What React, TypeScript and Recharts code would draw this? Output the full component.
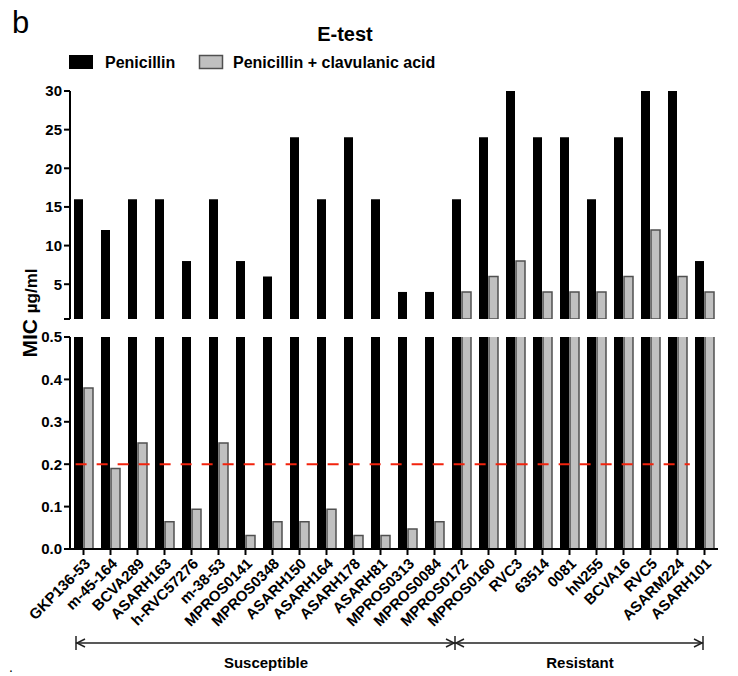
import React from 'react';
import { BarChart, Bar, XAxis, YAxis, ReferenceLine } from 'recharts';

const FONT = '"Liberation Sans", Arial, Helvetica, sans-serif';

const strains = [
  'GKP136-53', 'm-45-164', 'BCVA289', 'ASARH163', 'h-RVC57276', 'm-38-53',
  'MPROS0141', 'MPROS0348', 'ASARH150', 'ASARH164', 'ASARH178', 'ASARH81',
  'MPROS0313', 'MPROS0084', 'MPROS0172', 'MPROS0160', 'RVC3', '63514',
  '0081', 'hN255', 'BCVA16', 'RVC5', 'ASARM224', 'ASARH101',
];

const penicillin = [
  16, 12, 16, 16, 8, 16, 8, 6, 24, 16, 24, 16,
  4, 4, 16, 24, 30, 24, 24, 16, 24, 30, 30, 8,
];

const penicillinClav = [
  0.38, 0.19, 0.25, 0.064, 0.094, 0.25, 0.032, 0.064, 0.064, 0.094, 0.032, 0.032,
  0.047, 0.064, 4, 6, 8, 4, 4, 4, 6, 12, 6, 4,
];

const upperTicks = [0.5, 5, 10, 15, 20, 25, 30];
const lowerTicks = [0, 0.1, 0.2, 0.3, 0.4, 0.5];
const axisBreak = 0.5;
const breakpoint = 0.2; // red dashed cut-off
const breakpointSpan = [0.2, 22]; // in category units

const rows = strains.map((name, i) => ({
  name,
  pen: penicillin[i],
  clav: penicillinClav[i],
  penTop: penicillin[i] >= axisBreak ? penicillin[i] : null,
  clavTop: penicillinClav[i] >= axisBreak ? penicillinClav[i] : null,
}));

const axisProps = {
  axisLine: { stroke: '#000', strokeWidth: 2 },
  tickLine: { stroke: '#000', strokeWidth: 2 },
  tickSize: 6,
};

const yTick = { fontSize: 15, fontWeight: 'bold', fill: '#000', fontFamily: FONT };

const XTick = (props: any) => {
  const { x, y, payload } = props;
  const px = x + 4;
  const py = y + 4;
  return (
    <text
      x={px}
      y={py}
      transform={`rotate(-45, ${px}, ${py})`}
      textAnchor="end"
      dy="0.35em"
      fontSize={15}
      fontWeight="bold"
      fontFamily={FONT}
      fill="#000"
    >
      {payload.value}
    </text>
  );
};

const Overlay = () => (
  <svg width={738} height={676} style={{ position: 'absolute', left: 0, top: 0, pointerEvents: 'none' }}>
    <text x={12} y={33} fontSize={31} fontFamily={FONT} fill="#000">b</text>
    <text x={345} y={41} fontSize={20} fontWeight="bold" textAnchor="middle" fontFamily={FONT} fill="#000">E-test</text>
    <rect x={69} y={55} width={24} height={14} fill="#000" />
    <text x={105} y={67.5} fontSize={16} fontWeight="bold" fontFamily={FONT} fill="#000">Penicillin</text>
    <rect x={199.5} y={55.5} width={23} height={13} fill="#c0c0c0" stroke="#505050" strokeWidth={1.5} />
    <text x={233} y={67.5} fontSize={16} fontWeight="bold" fontFamily={FONT} fill="#000">Penicillin + clavulanic acid</text>
    <text transform="translate(37,313) rotate(-90)" textAnchor="middle" fontWeight="bold" fontFamily={FONT} fill="#000">
      <tspan fontSize={21}>MIC </tspan>
      <tspan fontSize={17}>µg/ml</tspan>
    </text>
    <g stroke="#222" strokeWidth={1.5} fill="none">
      <line x1={76} y1={643} x2={703} y2={643} />
      <line x1={76} y1={636} x2={76} y2={650} />
      <line x1={455} y1={636} x2={455} y2={650} />
      <line x1={703} y1={636} x2={703} y2={650} />
      <polyline points="85,639 77,643 85,647" />
      <polyline points="446,639 454,643 446,647" />
      <polyline points="464,639 456,643 464,647" />
      <polyline points="694,639 702,643 694,647" />
    </g>
    <text x={266} y={668} fontSize={15} fontWeight="bold" textAnchor="middle" fontFamily={FONT} fill="#000">Susceptible</text>
    <text x={580} y={668} fontSize={15} fontWeight="bold" textAnchor="middle" fontFamily={FONT} fill="#000">Resistant</text>
    <text x={9} y={672} fontSize={14} fontFamily={FONT} fill="#000">.</text>
  </svg>
);

const App: React.FC = () => {
  return (
    <div style={{ position: 'absolute', left: 0, top: 0, width: 738, height: 676, background: '#fff', fontFamily: FONT }}>
      <div style={{ position: 'absolute', left: 0, top: 0 }}>
        <BarChart
          width={738}
          height={330}
          data={rows}
          margin={{ top: 91, right: 20, bottom: 11, left: 0 }}
          barSize={9}
          barGap={1}
        >
          <XAxis dataKey="name" hide />
          <YAxis
            width={70}
            domain={[axisBreak, 30]}
            ticks={upperTicks}
            allowDataOverflow
            interval={0}
            tickFormatter={(v: number) => (v === axisBreak ? '' : String(v))}
            tick={yTick}
            {...axisProps}
          />
          <Bar dataKey="penTop" fill="#000" isAnimationActive={false} />
          <Bar dataKey="clavTop" fill="#c0c0c0" stroke="#505050" strokeWidth={1.5} isAnimationActive={false} />
        </BarChart>
      </div>
      <div style={{ position: 'absolute', left: 0, top: 320 }}>
        <BarChart
          width={738}
          height={320}
          data={rows}
          margin={{ top: 17, right: 20, bottom: 0, left: 0 }}
          barSize={9}
          barGap={1}
        >
          <XAxis dataKey="name" interval={0} height={91} tick={<XTick />} {...axisProps} />
          <XAxis xAxisId="pos" type="number" domain={[0, strains.length]} hide />
          <YAxis
            width={70}
            domain={[0, axisBreak]}
            ticks={lowerTicks}
            allowDataOverflow
            interval={0}
            tickFormatter={(v: number) => v.toFixed(1)}
            tick={yTick}
            {...axisProps}
          />
          <Bar dataKey="pen" fill="#000" isAnimationActive={false} />
          <Bar dataKey="clav" fill="#c0c0c0" stroke="#505050" strokeWidth={1.5} isAnimationActive={false} />
          <ReferenceLine
            xAxisId="pos"
            segment={[
              { x: breakpointSpan[0], y: breakpoint },
              { x: breakpointSpan[1], y: breakpoint },
            ]}
            stroke="#f2230d"
            strokeWidth={2}
            strokeDasharray="11 10"
          />
        </BarChart>
      </div>
      <Overlay />
    </div>
  );
};

export default App;
